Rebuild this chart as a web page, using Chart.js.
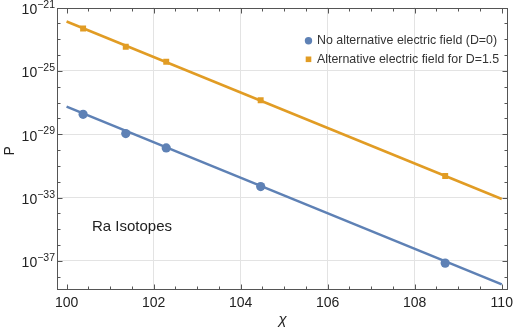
<!DOCTYPE html>
<html>
<head>
<meta charset="utf-8">
<script src="https://cdn.jsdelivr.net/npm/chart.js@4/dist/chart.umd.min.js"></script>
<style>
  html, body { margin: 0; padding: 0; background: #fff; }
  canvas { display: block; }
</style>
</head>
<body>
<canvas id="c" width="518" height="330"></canvas>
<script>
// ---- data ----
const chiPoints = [100.38, 101.36, 102.29, 104.46, 108.70];
const pNoField = [1.8e-28, 1.1e-29, 1.35e-30, 4.9e-33, 7.2e-38];
const pField = [4.7e-23, 3.3e-24, 3.7e-25, 1.4e-27, 2.3e-32];
const chiFit = [100, 110];
const pNoFieldFit = [5.5e-28, 3.3e-39];
const pFieldFit = [1.3e-22, 8.1e-34];
const xTickValues = [100, 102, 104, 106, 108, 110];
const yTickExponents = [-21, -25, -29, -33, -37];
const seriesLabels = ['No alternative electric field (D=0)', 'Alternative electric field for D=1.5'];
const annotationText = 'Ra Isotopes';
const xTitle = 'χ';
const yTitle = 'P';

const BLUE = '#5E81B5';
const ORANGE = '#E19C24';
const FONT = '"Liberation Sans", Arial, sans-serif';

const toXY = (xs, ys) => xs.map((x, i) => ({ x: x, y: ys[i] }));

const framePlugin = {
  id: 'frame',
  afterDraw(chart) {
    const ctx = chart.ctx;
    const a = chart.chartArea;
    const xs = chart.scales.x, ys = chart.scales.y;
    ctx.save();
    // frame
    ctx.strokeStyle = '#555';
    ctx.lineWidth = 1;
    const L = Math.round(a.left) + 0.5, R = Math.round(a.right) - 0.5;
    const T = Math.round(a.top) + 0.5, B = Math.round(a.bottom) - 0.5;
    ctx.strokeRect(L, T, R - L, B - T);
    // x ticks (inside), every 0.5
    ctx.beginPath();
    for (let v = 100; v <= 110.0001; v += 0.5) {
      const px = Math.round(xs.getPixelForValue(v)) + 0.5;
      const major = Math.abs(v % 2) < 1e-6;
      const len = major ? 5 : 3;
      ctx.moveTo(px, B); ctx.lineTo(px, B - len);
      ctx.moveTo(px, T); ctx.lineTo(px, T + len);
    }
    // y ticks (inside), every decade
    for (let e = -21; e >= -38; e--) {
      const py = Math.round(ys.getPixelForValue(Math.pow(10, e))) + 0.5;
      const major = ((-21 - e) % 4) === 0;
      const len = major ? 5 : 3;
      ctx.moveTo(L, py); ctx.lineTo(L + len, py);
      ctx.moveTo(R, py); ctx.lineTo(R - len, py);
    }
    ctx.stroke();

    // y tick labels 10^e
    ctx.fillStyle = '#222';
    ctx.textBaseline = 'alphabetic';
    ctx.textAlign = 'left';
    yTickExponents.forEach(e => {
      const py = ys.getPixelForValue(Math.pow(10, e));
      const sup = '\u2212' + String(-e);
      ctx.font = '10.5px ' + FONT;
      const wSup = ctx.measureText(sup).width;
      ctx.font = '14px ' + FONT;
      const wBase = ctx.measureText('10').width;
      const right = 55;
      const x0 = right - wSup - wBase;
      ctx.fillText('10', x0, py + 6.5);
      ctx.font = '10.5px ' + FONT;
      ctx.fillText(sup, x0 + wBase, py + 0.3);
    });

    // axis titles
    ctx.font = '14px ' + FONT;
    ctx.textAlign = 'center';
    ctx.save();
    ctx.translate(13.5, (a.top + a.bottom) / 2 + 2);
    ctx.rotate(-Math.PI / 2);
    ctx.fillText(yTitle, 0, 0);
    ctx.restore();
    ctx.font = 'italic 15px ' + FONT;
    ctx.fillText(xTitle, (a.left + a.right) / 2, 324);

    // annotation
    ctx.textAlign = 'left';
    ctx.font = '15px ' + FONT;
    ctx.fillStyle = '#222';
    ctx.fillText(annotationText, 92, 231);

    // legend
    const ds = chart.data.datasets;
    ctx.font = '12.4px ' + FONT;
    ctx.fillStyle = '#333';
    ctx.fillText(ds[0].label, 317, 44);
    ctx.fillText(ds[1].label, 317, 62.5);
    ctx.fillStyle = ds[0].backgroundColor;
    ctx.beginPath();
    ctx.arc(308.5, 40.7, 3.7, 0, Math.PI * 2);
    ctx.fill();
    ctx.fillStyle = ds[1].backgroundColor;
    ctx.fillRect(305.7, 56.5, 5.6, 5.6);
    ctx.restore();
  }
};

const gridColor = '#e3e3e3';

new Chart(document.getElementById('c'), {
  type: 'scatter',
  data: {
    datasets: [
      {
        label: seriesLabels[0],
        data: toXY(chiPoints, pNoField),
        backgroundColor: BLUE, borderColor: BLUE,
        pointStyle: 'circle', pointRadius: 4.6, pointBorderWidth: 0,
        showLine: false
      },
      {
        label: seriesLabels[1],
        data: toXY(chiPoints, pField),
        backgroundColor: ORANGE, borderColor: ORANGE,
        pointStyle: 'rect', pointRadius: 4.2, pointBorderWidth: 0,
        showLine: false
      },
      {
        label: 'fit0',
        data: toXY(chiFit, pNoFieldFit),
        borderColor: BLUE, backgroundColor: BLUE,
        showLine: true, pointRadius: 0, borderWidth: 2.5
      },
      {
        label: 'fit1',
        data: toXY(chiFit, pFieldFit),
        borderColor: ORANGE, backgroundColor: ORANGE,
        showLine: true, pointRadius: 0, borderWidth: 2.5
      }
    ]
  },
  options: {
    responsive: false,
    animation: false,
    devicePixelRatio: 1,
    layout: { autoPadding: false, padding: { top: 7.5, right: 5, left: 0, bottom: 0 } },
    plugins: { legend: { display: false }, tooltip: { enabled: false } },
    scales: {
      x: {
        type: 'linear',
        min: 99.78, max: 110.15,
        afterBuildTicks: s => { s.ticks = xTickValues.map(v => ({ value: v })); },
        afterFit: s => { s.height = 40; },
        grid: {
          drawTicks: false,
          color: c => (c.tick && (c.tick.value === 100 || c.tick.value === 110)) ? 'rgba(0,0,0,0)' : gridColor
        },
        border: { display: false },
        ticks: {
          color: '#222', padding: 5,
          font: { family: FONT, size: 14 },
          callback: v => String(v),
          maxRotation: 0
        }
      },
      y: {
        type: 'logarithmic',
        min: Math.pow(10, -38.84), max: 1e-21,
        afterBuildTicks: s => { s.ticks = yTickExponents.map(e => ({ value: Math.pow(10, e) })); },
        afterFit: s => { s.width = 57; },
        grid: {
          drawTicks: false,
          color: c => (c.tick && Math.abs(Math.log10(c.tick.value) + 21) < 1e-6) ? 'rgba(0,0,0,0)' : gridColor
        },
        border: { display: false },
        ticks: { display: false }
      }
    }
  },
  plugins: [framePlugin]
});
</script>
</body>
</html>
